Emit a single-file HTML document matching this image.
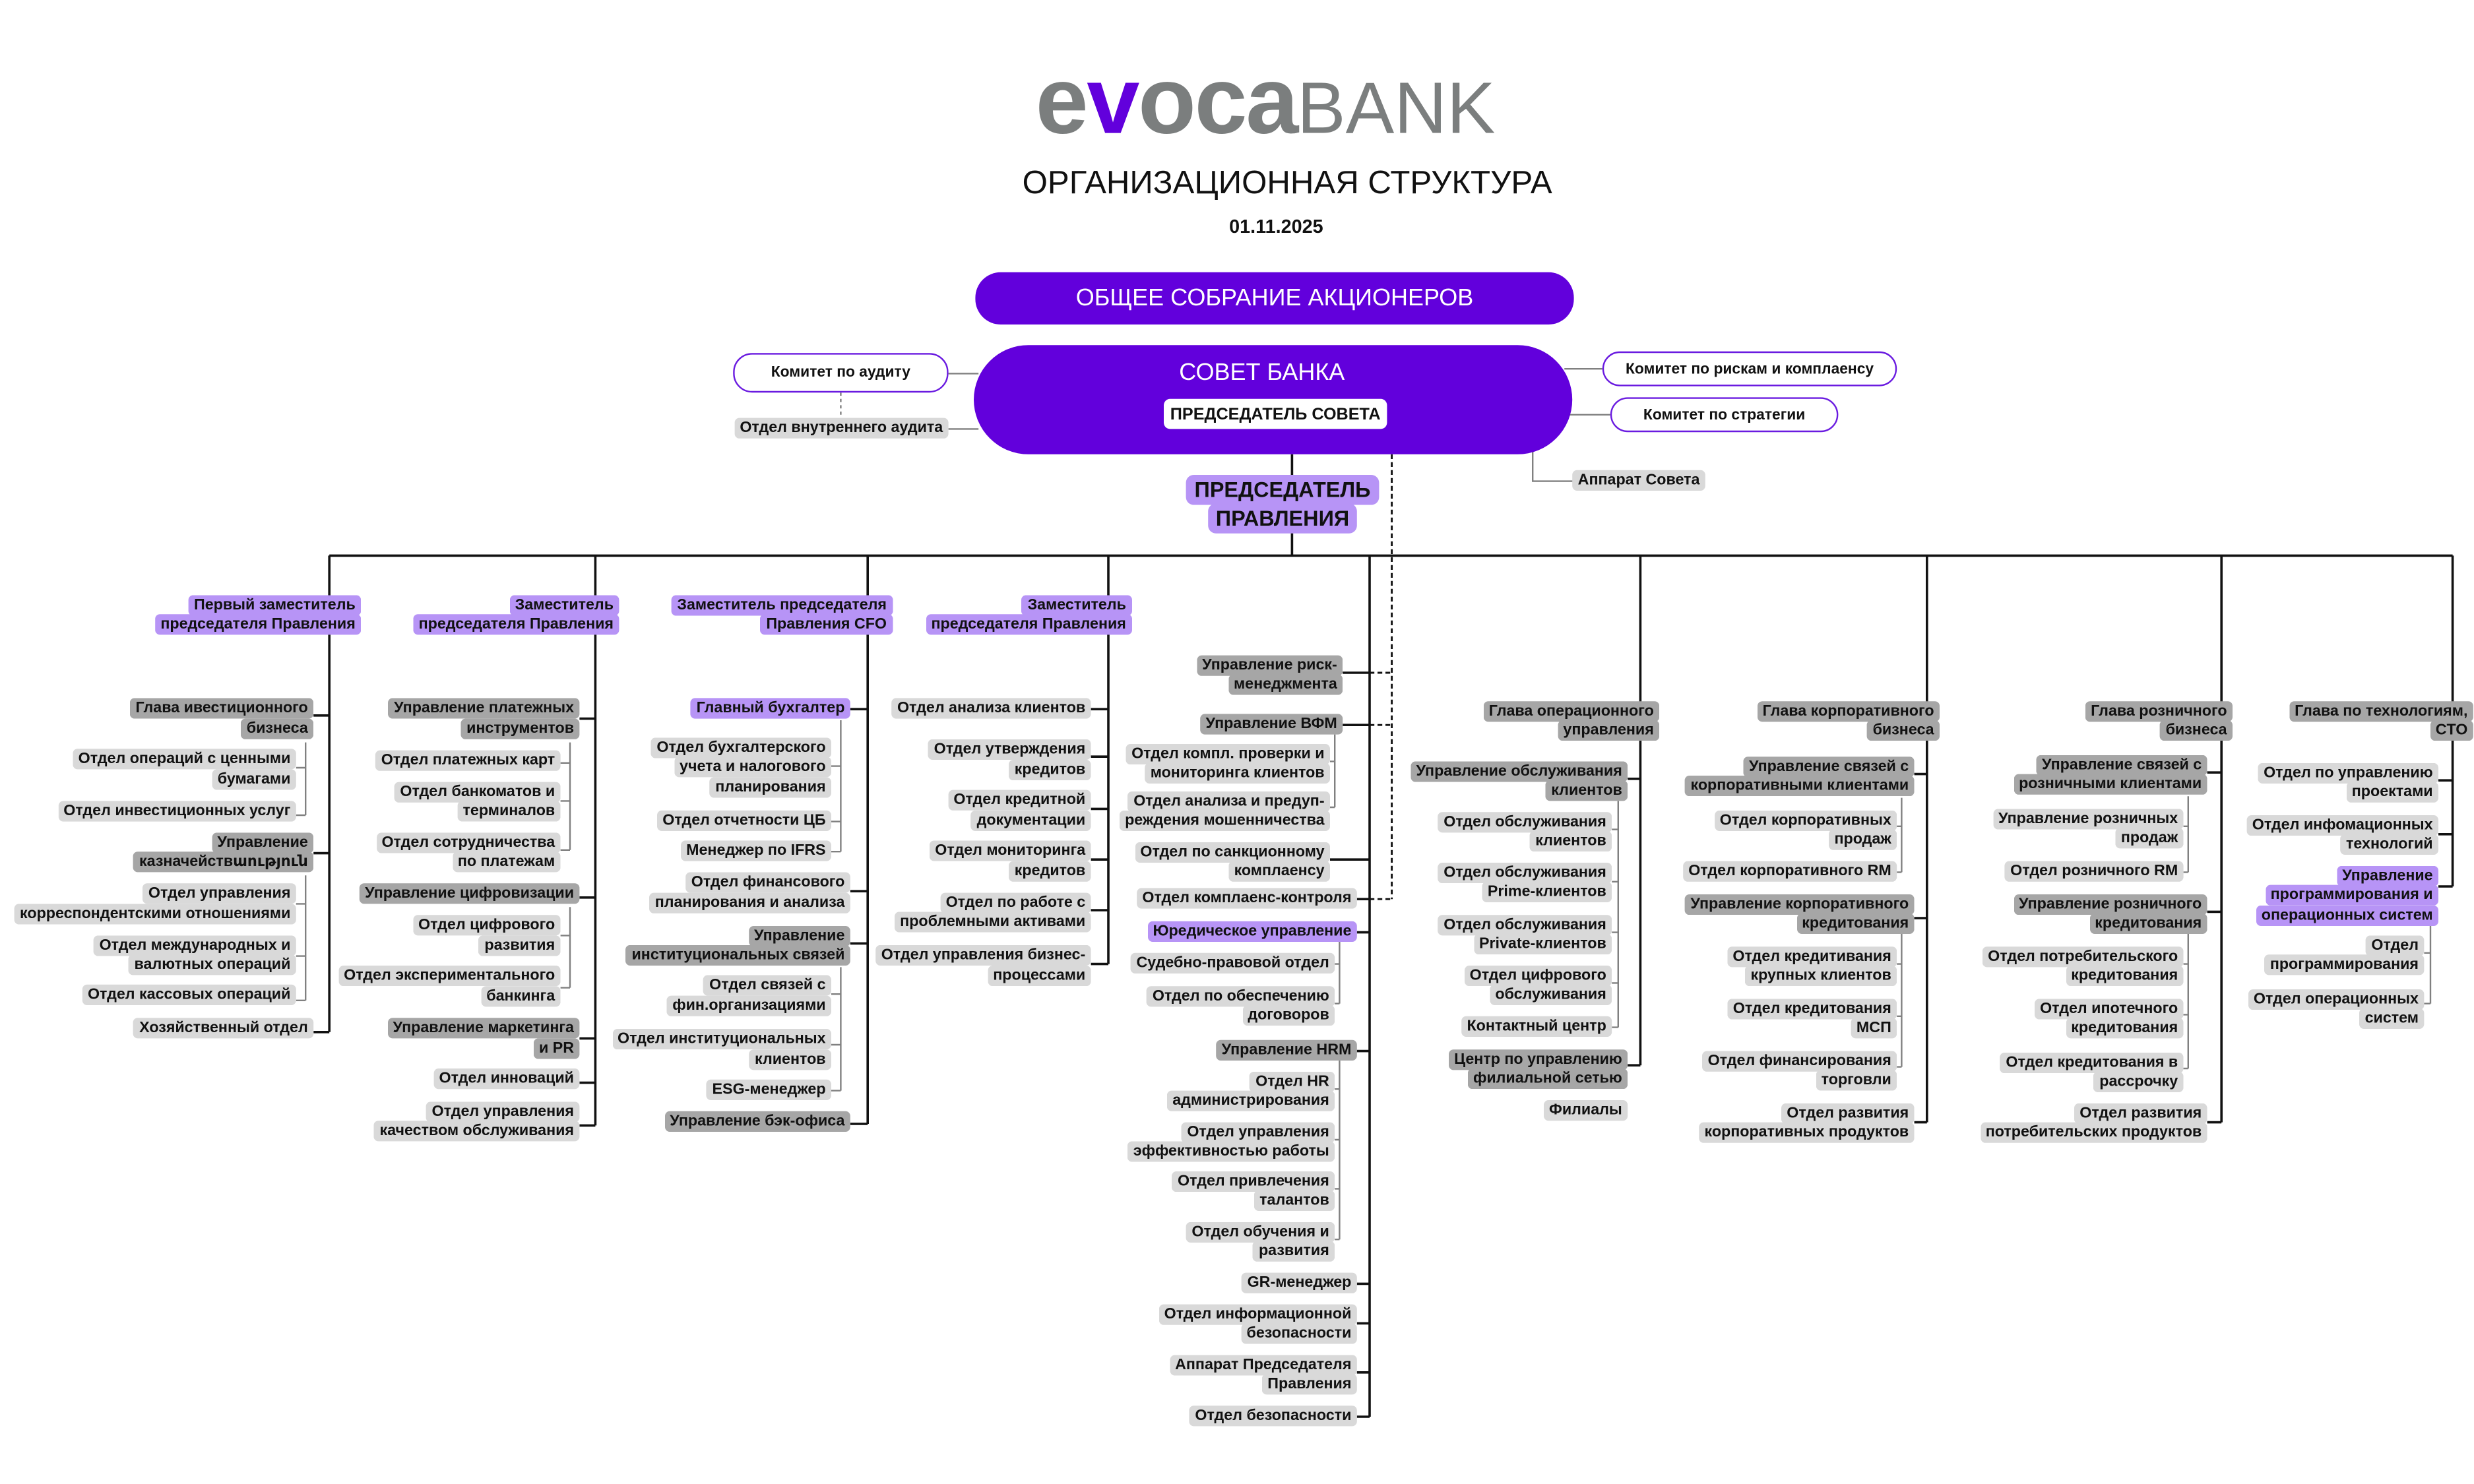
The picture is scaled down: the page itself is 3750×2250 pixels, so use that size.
<!DOCTYPE html>
<html><head><meta charset="utf-8">
<style>
html,body{margin:0;padding:0;background:#fff;}
body{width:3750px;height:2250px;overflow:hidden;position:relative;}
#s{position:absolute;left:0;top:0;width:1562.5px;height:937.5px;transform:scale(2.4);transform-origin:0 0;font-family:"Liberation Sans","DejaVu Sans",sans-serif;}
svg{position:absolute;left:0;top:0;}
.n{position:absolute;text-align:right;white-space:nowrap;font-weight:bold;font-size:9.7px;line-height:12.6px;color:#111;}
.n span{background:#d9d9d9;padding:1px 3.5px;border-radius:3px;-webkit-box-decoration-break:clone;box-decoration-break:clone;}
.d span{background:#a6a6a6;}
.p span{background:#b794f6;}
.k{position:absolute;box-sizing:border-box;border:1px solid #6a1be0;background:#fff;border-radius:12px;font-weight:bold;font-size:9.5px;color:#111;display:flex;align-items:center;justify-content:center;white-space:nowrap;}
</style></head><body>
<div id="s">
<svg width="1562.5" height="937.5" viewBox="0 0 1562.5 937.5">
<g stroke="#111" stroke-width="1.5" fill="none">
<path d="M816 287V351M208 351H1549"/>
<path d="M208 351V652M376 351V711M548 351V710M700 351V609M865 351V895M1036 351V673M1217 351V709M1403 351V709M1549 351V560"/>
<path d="M198 452H208M198 539H208M198 652H208"/>
<path d="M366 454H376M366 567H376M366 656H376M366 684H376M366 711H376"/>
<path d="M537 448H548M537 563H548M537 596H548M537 710H548"/>
<path d="M689 448H700M689 478H700M689 511H700M689 543H700M689 575H700M689 609H700"/>
<path d="M848 425H865M848 458H865M840 543H865M857 568H865M857 589H865M857 664H865M857 811H865M857 836H865M857 867H865M857 895H865"/>
<path d="M1028 492H1036M1028 673H1036"/>
<path d="M1209 489H1217M1209 580H1217M1209 709H1217"/>
<path d="M1394 488H1403M1394 576H1403M1394 709H1403"/>
<path d="M1540 493H1549M1540 527H1549M1540 560H1549"/>
</g>
<g stroke="#111" stroke-width="1.2" fill="none" stroke-dasharray="3,2">
<path d="M879 287V568M865 425H879M865 458H879M865 568H879"/>
</g>
<g stroke="#808080" stroke-width="1" fill="none">
<path d="M193 469V515M187 485H193M187 515H193"/>
<path d="M193 553V632M187 571H193M187 604H193M187 632H193"/>
<path d="M360 469V537M354 482H360M354 506H360M354 537H360"/>
<path d="M360 573V624M354 591H360M354 624H360"/>
<path d="M531 455V538M525 484H531M525 519H531M525 538H531"/>
<path d="M531 611V689M525 628H531M525 660H531M525 689H531"/>
<path d="M843 464V510M840 481H843M840 510H843"/>
<path d="M846 595V634M843 609H846M843 634H846"/>
<path d="M846 670V783M843 688H846M843 720H846M843 751H846M843 783H846"/>
<path d="M1022 506V649M1018 524H1022M1018 557H1022M1018 589H1022M1018 621H1022M1018 649H1022"/>
<path d="M1201 504V551M1198 522H1201M1198 551H1201"/>
<path d="M1201 590V674M1198 609H1201M1198 642H1201M1198 674H1201"/>
<path d="M1382 503V551M1379 522H1382M1379 551H1382"/>
<path d="M1382 590V675M1379 609H1382M1379 641H1382M1379 675H1382"/>
<path d="M1535 585V634M1531 602H1535M1531 634H1535"/>
<path d="M599 236H618M599 271H618M988 233H1012M990 262H1017M968 285V304H994"/>
<path d="M531 248V264" stroke-dasharray="2,2"/>
</g>
</svg>

<div style="position:absolute;left:654px;top:34px;font-size:60px;font-weight:bold;line-height:60px;color:#7b7e7e;letter-spacing:-1px;">e<span style="color:#6200dc">v</span>oca<span style="font-weight:normal;font-size:46px;letter-spacing:0">BANK</span></div>
<div style="position:absolute;left:0;width:1626px;top:104px;text-align:center;font-size:20.5px;color:#111;">ОРГАНИЗАЦИОННАЯ СТРУКТУРА</div>
<div style="position:absolute;left:0;width:1612px;top:136px;text-align:center;font-size:12px;font-weight:bold;color:#111;">01.11.2025</div>
<div style="position:absolute;left:616px;top:172px;width:378px;height:33px;background:#6200dc;border-radius:16px;color:#fff;font-size:15px;display:flex;align-items:center;justify-content:center;">ОБЩЕЕ СОБРАНИЕ АКЦИОНЕРОВ</div>
<div style="position:absolute;left:615px;top:218px;width:378px;height:69px;background:#6200dc;border-radius:35px;"></div>
<div style="position:absolute;left:615px;width:364px;top:227px;text-align:center;color:#fff;font-size:15px;">СОВЕТ БАНКА</div>
<div style="position:absolute;left:735px;top:252px;width:141px;height:19px;background:#fff;border-radius:4px;font-weight:bold;font-size:10.5px;display:flex;align-items:center;justify-content:center;color:#111;">ПРЕДСЕДАТЕЛЬ СОВЕТА</div>
<div class="k" style="left:463px;top:223px;width:136px;height:25px;">Комитет по аудиту</div>
<div class="k" style="left:1012px;top:222px;width:186px;height:22px;">Комитет по рискам и комплаенсу</div>
<div class="k" style="left:1017px;top:251px;width:144px;height:22px;">Комитет по стратегии</div>
<div class="n" style="right:963.5px;top:264.7px"><span>Отдел внутреннего аудита</span></div>
<div class="n" style="right:485.5px;top:297.7px"><span>Аппарат Совета</span></div>
<div style="position:absolute;left:710px;width:200px;top:301px;text-align:center;font-weight:bold;font-size:13.5px;line-height:18px;color:#111;"><span style="background:#b794f6;padding:2px 5px;border-radius:5px;-webkit-box-decoration-break:clone;box-decoration-break:clone;">ПРЕДСЕДАТЕЛЬ<br>ПРАВЛЕНИЯ</span></div>

<div class="n p" style="right:1334.5px;top:376.7px"><span>Первый заместитель<br>председателя Правления</span></div>
<div class="n d" style="right:1364.5px;top:442.2px"><span>Глава ивестиционного<br>бизнеса</span></div>
<div class="n" style="right:1375.5px;top:474.3px"><span>Отдел операций с ценными<br>бумагами</span></div>
<div class="n" style="right:1375.5px;top:507.1px"><span>Отдел инвестиционных услуг</span></div>
<div class="n d" style="right:1364.5px;top:526.7px"><span>Управление<br>казначействաություն</span></div>
<div class="n" style="right:1375.5px;top:559.1px"><span>Отдел управления<br>корреспондентскими отношениями</span></div>
<div class="n" style="right:1375.5px;top:591.7px"><span>Отдел международных и<br>валютных операций</span></div>
<div class="n" style="right:1375.5px;top:623.3px"><span>Отдел кассовых операций</span></div>
<div class="n" style="right:1364.5px;top:643.5px"><span>Хозяйственный отдел</span></div>

<div class="n p" style="right:1171.5px;top:376.7px"><span>Заместитель<br>председателя Правления</span></div>
<div class="n d" style="right:1196.5px;top:442.2px"><span>Управление платежных<br>инструментов</span></div>
<div class="n" style="right:1208.5px;top:474.5px"><span>Отдел платежных карт</span></div>
<div class="n" style="right:1208.5px;top:494.5px"><span>Отдел банкоматов и<br>терминалов</span></div>
<div class="n" style="right:1208.5px;top:526.7px"><span>Отдел сотрудничества<br>по платежам</span></div>
<div class="n d" style="right:1196.5px;top:559.4px"><span>Управление цифровизации</span></div>
<div class="n" style="right:1208.5px;top:579.1px"><span>Отдел цифрового<br>развития</span></div>
<div class="n" style="right:1208.5px;top:611.4px"><span>Отдел экспериментального<br>банкинга</span></div>
<div class="n d" style="right:1196.5px;top:644px"><span>Управление маркетинга<br>и PR</span></div>
<div class="n" style="right:1196.5px;top:676.3px"><span>Отдел инноваций</span></div>
<div class="n" style="right:1196.5px;top:696.5px"><span>Отдел управления<br>качеством обслуживания</span></div>

<div class="n p" style="right:999px;top:376.7px"><span>Заместитель председателя<br>Правления CFO</span></div>
<div class="n p" style="right:1025.5px;top:442.1px"><span>Главный бухгалтер</span></div>
<div class="n" style="right:1037.5px;top:466.9px"><span>Отдел бухгалтерского<br>учета и налогового<br>планирования</span></div>
<div class="n" style="right:1037.5px;top:512.5px"><span>Отдел отчетности ЦБ</span></div>
<div class="n" style="right:1037.5px;top:532px"><span>Менеджер по IFRS</span></div>
<div class="n" style="right:1025.5px;top:552px"><span>Отдел финансового<br>планирования и анализа</span></div>
<div class="n d" style="right:1025.5px;top:585.5px"><span>Управление<br>институциональных связей</span></div>
<div class="n" style="right:1037.5px;top:617.3px"><span>Отдел связей с<br>фин.организациями</span></div>
<div class="n" style="right:1037.5px;top:651.1px"><span>Отдел институциональных<br>клиентов</span></div>
<div class="n" style="right:1037.5px;top:682.7px"><span>ESG-менеджер</span></div>
<div class="n d" style="right:1025.5px;top:703.1px"><span>Управление бэк-офиса</span></div>

<div class="n p" style="right:847.8px;top:376.7px"><span>Заместитель<br>председателя Правления</span></div>
<div class="n" style="right:873.5px;top:442.1px"><span>Отдел анализа клиентов</span></div>
<div class="n" style="right:873.5px;top:468.3px"><span>Отдел утверждения<br>кредитов</span></div>
<div class="n" style="right:873.5px;top:500.3px"><span>Отдел кредитной<br>документации</span></div>
<div class="n" style="right:873.5px;top:532.4px"><span>Отдел мониторинга<br>кредитов</span></div>
<div class="n" style="right:873.5px;top:564.7px"><span>Отдел по работе с<br>проблемными активами</span></div>
<div class="n" style="right:873.5px;top:598.3px"><span>Отдел управления бизнес-<br>процессами</span></div>

<div class="n d" style="right:714.5px;top:414.7px"><span>Управление риск-<br>менеджмента</span></div>
<div class="n d" style="right:714.5px;top:451.7px"><span>Управление ВФМ</span></div>
<div class="n" style="right:722.5px;top:470.7px"><span>Отдел компл. проверки и<br>мониторинга клиентов</span></div>
<div class="n" style="right:722.5px;top:500.7px"><span>Отдел анализа и предуп-<br>реждения мошенничества</span></div>
<div class="n" style="right:722.5px;top:532.7px"><span>Отдел по санкционному<br>комплаенсу</span></div>
<div class="n" style="right:705.5px;top:561.7px"><span>Отдел комплаенс-контроля</span></div>
<div class="n p" style="right:705.5px;top:582.7px"><span>Юредическое управление</span></div>
<div class="n" style="right:719.5px;top:602.7px"><span>Судебно-правовой отдел</span></div>
<div class="n" style="right:719.5px;top:623.7px"><span>Отдел по обеспечению<br>договоров</span></div>
<div class="n d" style="right:705.5px;top:657.7px"><span>Управление HRM</span></div>
<div class="n" style="right:719.5px;top:677.7px"><span>Отдел HR<br>администрирования</span></div>
<div class="n" style="right:719.5px;top:709.7px"><span>Отдел управления<br>эффективностью работы</span></div>
<div class="n" style="right:719.5px;top:740.7px"><span>Отдел привлечения<br>талантов</span></div>
<div class="n" style="right:719.5px;top:772.7px"><span>Отдел обучения и<br>развития</span></div>
<div class="n" style="right:705.5px;top:804.7px"><span>GR-менеджер</span></div>
<div class="n" style="right:705.5px;top:824.7px"><span>Отдел информационной<br>безопасности</span></div>
<div class="n" style="right:705.5px;top:856.7px"><span>Аппарат Председателя<br>Правления</span></div>
<div class="n" style="right:705.5px;top:888.7px"><span>Отдел безопасности</span></div>

<div class="n d" style="right:514.5px;top:443.7px"><span>Глава операционного<br>управления</span></div>
<div class="n d" style="right:534.5px;top:481.7px"><span>Управление обслуживания<br>клиентов</span></div>
<div class="n" style="right:544.5px;top:513.7px"><span>Отдел обслуживания<br>клиентов</span></div>
<div class="n" style="right:544.5px;top:545.7px"><span>Отдел обслуживания<br>Prime-клиентов</span></div>
<div class="n" style="right:544.5px;top:578.7px"><span>Отдел обслуживания<br>Private-клиентов</span></div>
<div class="n" style="right:544.5px;top:610.7px"><span>Отдел цифрового<br>обслуживания</span></div>
<div class="n" style="right:544.5px;top:642.7px"><span>Контактный центр</span></div>
<div class="n d" style="right:534.5px;top:663.7px"><span>Центр по управлению<br>филиальной сетью</span></div>
<div class="n" style="right:534.5px;top:695.7px"><span>Филиалы</span></div>

<div class="n d" style="right:337.5px;top:443.7px"><span>Глава корпоративного<br>бизнеса</span></div>
<div class="n d" style="right:353.5px;top:478.7px"><span>Управление связей с<br>корпоративными клиентами</span></div>
<div class="n" style="right:364.5px;top:512.7px"><span>Отдел корпоративных<br>продаж</span></div>
<div class="n" style="right:364.5px;top:544.7px"><span>Отдел корпоративного RM</span></div>
<div class="n d" style="right:353.5px;top:565.7px"><span>Управление корпоративного<br>кредитования</span></div>
<div class="n" style="right:364.5px;top:598.7px"><span>Отдел кредитивания<br>крупных клиентов</span></div>
<div class="n" style="right:364.5px;top:631.7px"><span>Отдел кредитования<br>МСП</span></div>
<div class="n" style="right:364.5px;top:664.7px"><span>Отдел финансирования<br>торговли</span></div>
<div class="n" style="right:353.5px;top:697.7px"><span>Отдел развития<br>корпоративных продуктов</span></div>

<div class="n d" style="right:152.5px;top:443.7px"><span>Глава розничного<br>бизнеса</span></div>
<div class="n d" style="right:168.5px;top:477.7px"><span>Управление связей с<br>розничными клиентами</span></div>
<div class="n" style="right:183.5px;top:511.7px"><span>Управление розничных<br>продаж</span></div>
<div class="n" style="right:183.5px;top:544.7px"><span>Отдел розничного RM</span></div>
<div class="n d" style="right:168.5px;top:565.7px"><span>Управление розничного<br>кредитования</span></div>
<div class="n" style="right:183.5px;top:598.7px"><span>Отдел потребительского<br>кредитования</span></div>
<div class="n" style="right:183.5px;top:631.7px"><span>Отдел ипотечного<br>кредитования</span></div>
<div class="n" style="right:183.5px;top:665.7px"><span>Отдел кредитования в<br>рассрочку</span></div>
<div class="n" style="right:168.5px;top:697.7px"><span>Отдел развития<br>потребительских продуктов</span></div>

<div class="n d" style="right:0.5px;top:443.7px"><span>Глава по технологиям,<br>CTO</span></div>
<div class="n" style="right:22.5px;top:482.7px"><span>Отдел по управлению<br>проектами</span></div>
<div class="n" style="right:22.5px;top:515.7px"><span>Отдел инфомационных<br>технологий</span></div>
<div class="n p" style="right:22.5px;top:547.7px"><span>Управление<br>программирования и<br>операционных систем</span></div>
<div class="n" style="right:31.5px;top:591.7px"><span>Отдел<br>программирования</span></div>
<div class="n" style="right:31.5px;top:625.7px"><span>Отдел операционных<br>систем</span></div>
</div>
</body></html>
